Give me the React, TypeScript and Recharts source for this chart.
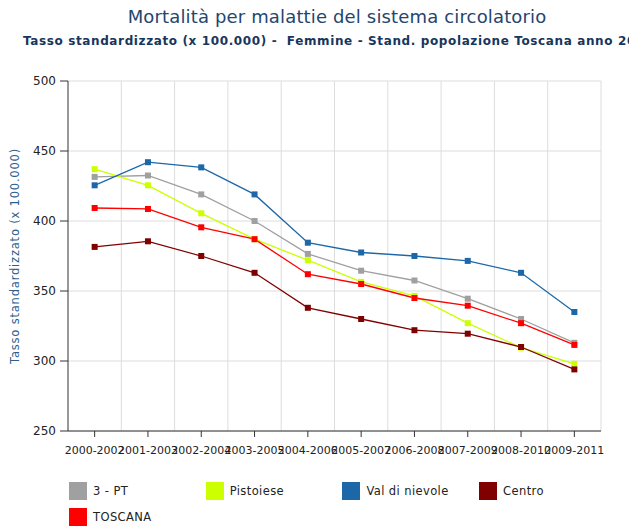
import React from "react";
import { LineChart, Line, XAxis, YAxis, CartesianGrid } from "recharts";

const categories = [
  "2000-2002", "2001-2003", "2002-2004", "2003-2005", "2004-2006",
  "2005-2007", "2006-2008", "2007-2009", "2008-2010", "2009-2011",
];
const pt3 = [431.5, 432.5, 419, 400, 376.5, 364.5, 357.5, 344.5, 330, 313];
const pistoiese = [437, 425.5, 405.5, 387, 372, 356.5, 346.5, 327, 309.5, 298];
const valdinievole = [425.5, 442, 438.3, 419, 384.5, 377.5, 375, 371.5, 363, 335];
const centro = [381.5, 385.5, 375, 363, 338, 330, 322, 319.5, 310, 294];
const toscana = [409.3, 408.6, 395.5, 387, 362, 355, 345, 339.5, 327, 311.5];
const yTicks = [250, 300, 350, 400, 450, 500];

const series = [
  { key: "pt3", name: "3 - PT", values: pt3, color: "#a0a0a0" },
  { key: "pistoiese", name: "Pistoiese", values: pistoiese, color: "#ccff00" },
  { key: "valdinievole", name: "Val di nievole", values: valdinievole, color: "#1c67a8" },
  { key: "centro", name: "Centro", values: centro, color: "#800000" },
  { key: "toscana", name: "TOSCANA", values: toscana, color: "#ff0000" },
];

const data = categories.map((c, i) => {
  const row: any = { cat: c };
  series.forEach((s) => (row[s.key] = s.values[i]));
  return row;
});

const FONT = "'DejaVu Sans', Verdana, sans-serif";

const makeDot = (color: string) => (props: any) => {
  const { cx, cy, index } = props;
  if (cx == null || cy == null) return <g key={index} />;
  return <rect key={index} x={cx - 3} y={cy - 3} width={6} height={6} fill={color} />;
};

const YLabel = (props: any) => {
  const vb = props.viewBox || {};
  const x = 15;
  const y = (vb.y ?? 81) + (vb.height ?? 350) / 2;
  return (
    <text
      x={x}
      y={y}
      transform={`rotate(-90, ${x}, ${y})`}
      textAnchor="middle"
      dominantBaseline="central"
      fontSize={11.5}
      letterSpacing={0.8}
      fontFamily={FONT}
      fill="#2f5f8f"
    >
      Tasso standardizzato (x 100.000)
    </text>
  );
};

export default function App() {
  return (
    <div
      style={{
        position: "absolute",
        left: 0,
        top: 0,
        width: 629,
        height: 527,
        background: "#fff",
        overflow: "hidden",
        fontFamily: FONT,
      }}
    >
      <div
        style={{
          position: "absolute",
          left: 0,
          width: 674,
          top: 6,
          textAlign: "center",
          fontSize: 18,
          letterSpacing: 0.15,
          color: "#24466e",
          whiteSpace: "nowrap",
        }}
      >
        Mortalità per malattie del sistema circolatorio
      </div>
      <div
        style={{
          position: "absolute",
          left: 23,
          top: 34,
          fontSize: 12,
          letterSpacing: 0.62,
          fontWeight: "bold",
          color: "#17365d",
          whiteSpace: "pre",
        }}
      >
        {"Tasso standardizzato (x 100.000) -  Femmine - Stand. popolazione Toscana anno 2007"}
      </div>
      <div style={{ position: "absolute", left: 0, top: 0 }}>
        <LineChart
          width={629}
          height={470}
          data={data}
          margin={{ top: 81, right: 28, bottom: 9, left: 0 }}
        >
          <CartesianGrid
            stroke="#dddddd"
            verticalCoordinatesGenerator={({ offset }: any) => {
              const n = categories.length;
              const out: number[] = [];
              for (let i = 1; i <= n; i++) out.push(offset.left + (offset.width * i) / n);
              return out;
            }}
          />
          <XAxis
            dataKey="cat"
            scale="band"
            interval={0}
            height={30}
            tickSize={6}
            tickMargin={9}
            tick={{ fontSize: 11, fill: "#222", fontFamily: FONT }}
            axisLine={{ stroke: "#333" }}
            tickLine={{ stroke: "#333" }}
          />
          <YAxis
            width={68}
            domain={[250, 500]}
            ticks={yTicks}
            interval={0}
            tickSize={8}
            tickMargin={4}
            tick={{ fontSize: 12, fill: "#222", fontFamily: FONT }}
            axisLine={{ stroke: "#333" }}
            tickLine={{ stroke: "#333" }}
            label={<YLabel />}
          />
          {series.map((s) => (
            <Line
              key={s.key}
              dataKey={s.key}
              name={s.name}
              stroke={s.color}
              strokeWidth={1.3}
              dot={makeDot(s.color)}
              activeDot={false}
              isAnimationActive={false}
            />
          ))}
        </LineChart>
      </div>
      {series.map((s, i) => {
        const col = i % 4;
        const row = Math.floor(i / 4);
        return (
          <div
            key={s.key}
            style={{
              position: "absolute",
              left: 69 + col * 136.7,
              top: 482 + row * 26,
              height: 18,
              display: "flex",
              alignItems: "center",
              fontSize: 11.5,
              letterSpacing: 0.4,
              color: "#222",
            }}
          >
            <span
              style={{
                display: "inline-block",
                width: 18,
                height: 18,
                background: s.color,
                marginRight: 6,
              }}
            />
            {s.name}
          </div>
        );
      })}
    </div>
  );
}
